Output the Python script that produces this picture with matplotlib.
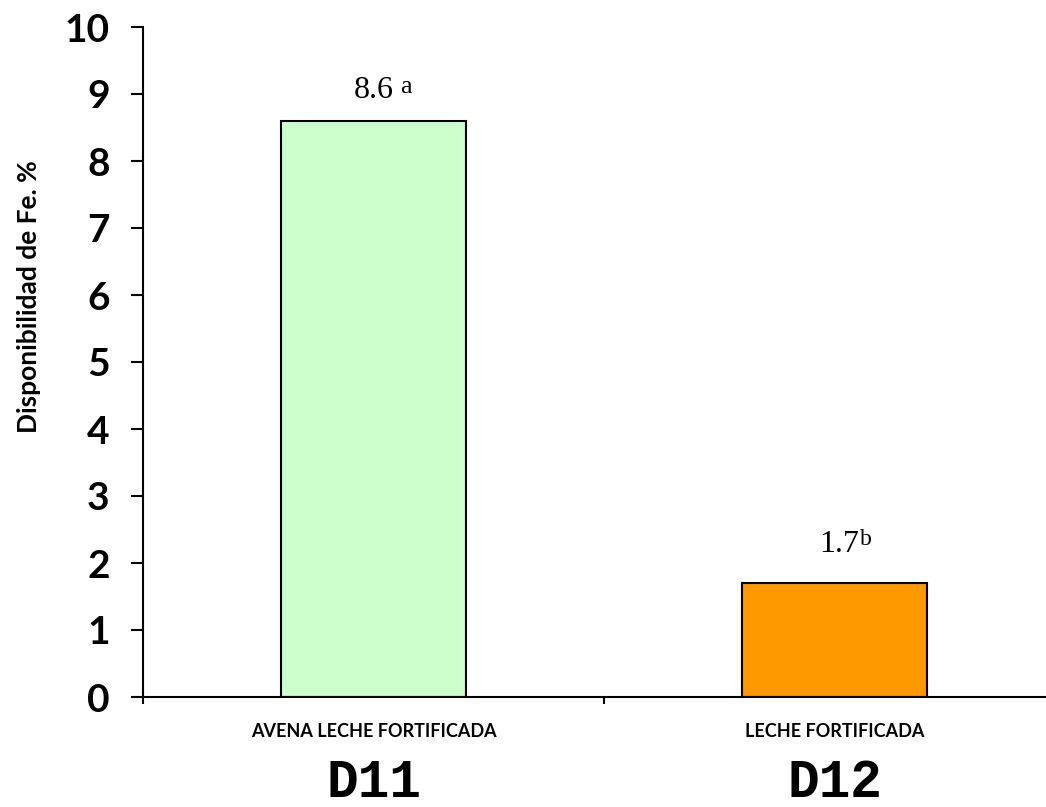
"""
Disponibilidad de Fe. % bar chart (D11 / D12).
"""

import matplotlib
matplotlib.use('Agg')
import matplotlib.pyplot as plt

categories = ['AVENA LECHE FORTIFICADA', 'LECHE FORTIFICADA']
codes = ['D11', 'D12']
values = [8.6, 1.7]
letters = ['a', 'b']
colors = ['#CCFFCC', '#FF9900']
yticks = [0, 1, 2, 3, 4, 5, 6, 7, 8, 9, 10]

sans = 'Lato'
serif = 'Liberation Serif'

fig = plt.figure(figsize=(10.46, 8.07), dpi=100)
ax = fig.add_axes([143 / 1046, 110 / 807, 922 / 1046, 670 / 807])

x = list(range(len(categories)))
ax.bar(x, values, width=0.4, color=colors, edgecolor='black', linewidth=1.5)

ax.set_xlim(-0.5, 1.5)
ax.set_ylim(0, 10)
ax.set_yticks(yticks)
ax.set_yticklabels([str(t) for t in yticks], fontsize=28, fontweight='bold',
                   family=sans)
ax.set_xticks([-0.5, 0.5, 1.5])
ax.set_xticklabels([])
ax.tick_params(axis='y', direction='out', length=9, width=1.5, pad=15)
ax.tick_params(axis='x', direction='out', length=5, width=1.5)

for side in ['top', 'right']:
    ax.spines[side].set_visible(False)
for side in ['left', 'bottom']:
    ax.spines[side].set_linewidth(1.5)

ax.set_ylabel('Disponibilidad de Fe. %', fontsize=19, fontweight='bold',
              family=sans, va='center')
ax.yaxis.set_label_coords(-0.124, 0.597)

# value labels with raised letters (pixel offsets from the bar centre)
label_base = [8.94, 2.16]
label_dx = [0, 5]
letter_dx = [27, 25]
letter_dy = [5, 7]
letter_size = [19, 17]
for i, v in enumerate(values):
    ax.annotate('%.1f' % v, xy=(x[i], label_base[i]), xycoords='data',
                xytext=(label_dx[i] * 0.72, 0), textcoords='offset points',
                ha='center', va='baseline', fontsize=23, family=serif)
    ax.annotate(letters[i], xy=(x[i], label_base[i]), xycoords='data',
                xytext=(letter_dx[i] * 0.72, letter_dy[i] * 0.72),
                textcoords='offset points', ha='left', va='baseline',
                fontsize=letter_size[i], family=serif)

# category names and codes under the axis
for i, name in enumerate(categories):
    ax.annotate(name, xy=(x[i], 0), xycoords='data', xytext=(0, -24.5),
                textcoords='offset points', ha='center', va='center',
                fontsize=13, fontweight='bold', family=sans,
                annotation_clip=False)
    ax.annotate(codes[i], xy=(x[i], 0), xycoords='data', xytext=(0, -62),
                textcoords='offset points', ha='center', va='center',
                fontsize=38, fontweight='bold', family='Liberation Mono',
                annotation_clip=False)

fig.savefig('out.png', dpi=100)
